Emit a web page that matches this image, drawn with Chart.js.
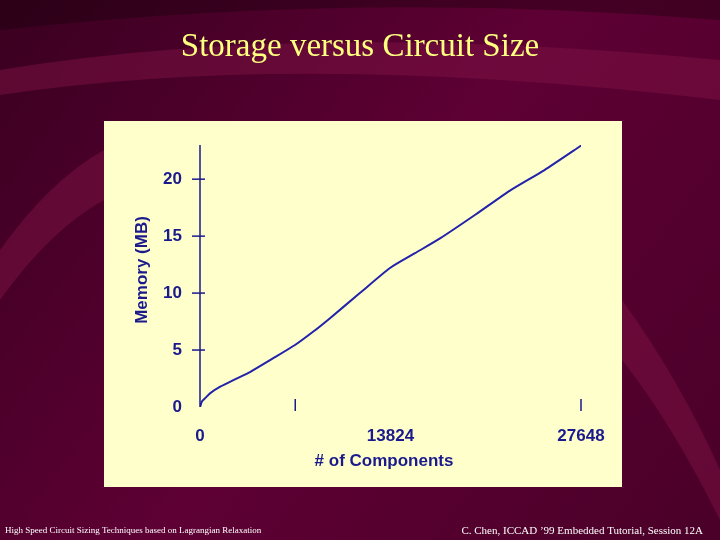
<!DOCTYPE html>
<html>
<head>
<meta charset="utf-8">
<script src="https://cdn.jsdelivr.net/npm/chart.js@4"></script>
<style>
  html, body { margin: 0; padding: 0; background: #4a0028; }
  #wrap { width: 720px; height: 540px; }
</style>
</head>
<body>
<div id="wrap"><canvas id="chart" width="720" height="540"></canvas></div>
<script>
// data
const components = [0, 150, 400, 725, 1500, 2500, 3628, 5200, 6894, 8200, 9434, 11600, 13788, 15600, 17416, 20000, 22495, 25000, 27720];
const memoryMB   = [0, 0.5, 0.8, 1.2, 1.8, 2.4, 3.07, 4.2, 5.44, 6.6, 7.8, 10.0, 12.2, 13.5, 14.8, 16.9, 19.0, 20.8, 23.0];
const yTicks = [0, 5, 10, 15, 20];
const xTickMarks = [6912, 27648];
const xTicks = [0, 13824, 27648];

const slide = {
    id: "slide",
    beforeDraw(chart) {
        const c = chart.ctx;
        const g = c.createLinearGradient(0, 0, 720, 540);
        g.addColorStop(0, "#3a0020");
        g.addColorStop(0.5, "#5e0034");
        g.addColorStop(1, "#4a0028");
        c.fillStyle = g;
        c.fillRect(0, 0, 720, 540);
        // swooshes
        c.fillStyle = "rgba(130,20,70,0.45)";
        c.beginPath();
        c.moveTo(0, 70); c.quadraticCurveTo(300, 20, 720, 60);
        c.lineTo(720, 100); c.quadraticCurveTo(300, 50, 0, 95); c.fill();
        c.beginPath();
        c.moveTo(0, 250); c.quadraticCurveTo(50, 180, 104, 150);
        c.lineTo(104, 200); c.quadraticCurveTo(50, 230, 0, 300); c.fill();
        c.beginPath();
        c.moveTo(622, 300); c.quadraticCurveTo(680, 380, 720, 470);
        c.lineTo(720, 520); c.quadraticCurveTo(670, 420, 622, 360); c.fill();
        c.fillStyle = "rgba(20,0,10,0.35)";
        c.beginPath();
        c.moveTo(0, 0); c.lineTo(720, 0); c.lineTo(720, 20); c.quadraticCurveTo(360, -10, 0, 30); c.fill();
        // title
        c.fillStyle = "#FFFF80";
        c.font = "33px 'Liberation Serif'";
        c.textAlign = "center";
        c.textBaseline = "middle";
        c.fillText("Storage versus Circuit Size", 360, 47);
        // footer
        c.fillStyle = "#ffffff";
        c.font = "9px 'Liberation Serif'";
        c.textAlign = "left";
        c.fillText("High Speed Circuit Sizing Techniques based on Lagrangian Relaxation", 5, 531);
        c.font = "11px 'Liberation Serif'";
        c.textAlign = "right";
        c.fillText("C. Chen, ICCAD \u201999 Embedded Tutorial, Session 12A", 703, 531);
        // panel
        c.fillStyle = "#FFFFCC";
        c.fillRect(104, 121, 518, 366);
    },
    afterDraw(chart) {
        const c = chart.ctx;
        const xs = chart.scales.x, ys = chart.scales.y;
        const x0 = xs.getPixelForValue(0), y0 = ys.getPixelForValue(0);
        c.strokeStyle = "#1a1a8c";
        c.lineWidth = 1.5;
        c.beginPath();
        c.moveTo(x0, ys.getPixelForValue(23)); c.lineTo(x0, y0);
        c.stroke();
        c.fillStyle = "#1a1a8c";
        c.font = "bold 17px 'Liberation Sans'";
        c.textBaseline = "middle";
        c.textAlign = "right";
        yTicks.forEach(v => {
            const y = ys.getPixelForValue(v);
            if (v > 0) {
                c.beginPath(); c.moveTo(x0 - 8, y); c.lineTo(x0 + 5, y); c.stroke();
            }
            c.fillText(String(v), x0 - 18, y);
        });
        c.textAlign = "center";
        xTickMarks.forEach(v => {
            const x = xs.getPixelForValue(v);
            c.beginPath(); c.moveTo(x, y0 - 8); c.lineTo(x, y0 + 4); c.stroke();
        });
        xTicks.forEach(v => c.fillText(String(v), xs.getPixelForValue(v), y0 + 29));
        c.fillText("# of Components", 384, 461);
        c.save();
        c.translate(142, 270);
        c.rotate(-Math.PI / 2);
        c.fillText("Memory (MB)", 0, 0);
        c.restore();
    }
};

new Chart(document.getElementById("chart"), {
    type: "line",
    data: {
        datasets: [{
            data: components.map((x, i) => ({ x: x, y: memoryMB[i] })),
            borderColor: "#2222aa",
            borderWidth: 2,
            pointRadius: 0,
            tension: 0.2,
        }],
    },
    options: {
        responsive: false,
        animation: false,
        layout: { padding: { left: 200, right: 139, top: 145, bottom: 133 } },
        plugins: { legend: { display: false }, tooltip: { enabled: false } },
        scales: {
            x: { type: "linear", min: 0, max: 27648, display: false },
            y: { min: 0, max: 23, display: false },
        },
    },
    plugins: [slide]
});
</script>
</body>
</html>
